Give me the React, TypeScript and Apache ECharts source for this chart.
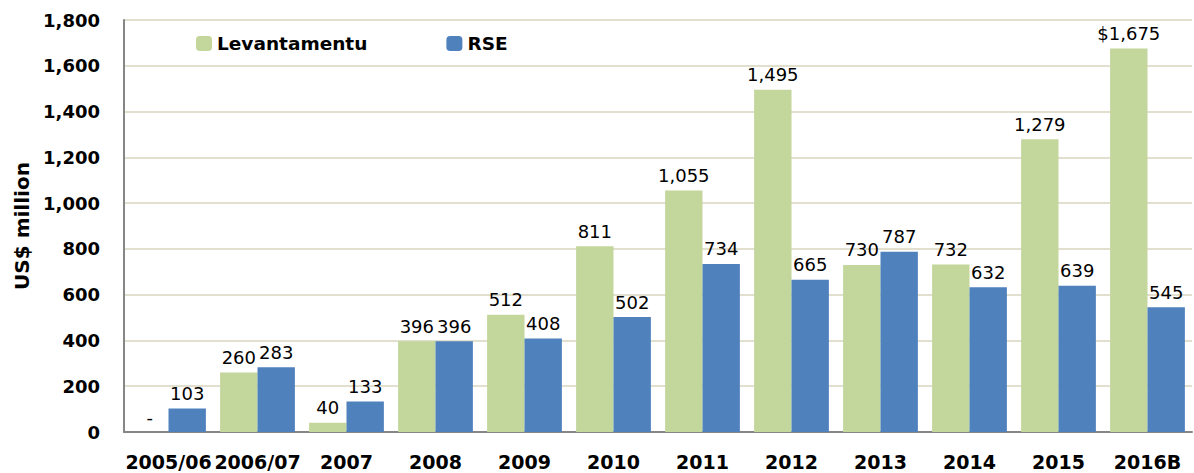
import React, { useEffect, useRef } from "react";
import * as echarts from "echarts";

const categories = ["2005/06", "2006/07", "2007", "2008", "2009", "2010", "2011", "2012", "2013", "2014", "2015", "2016B"];
const levantamentu = [0, 260, 40, 396, 512, 811, 1055, 1495, 730, 732, 1279, 1675];
const rse = [103, 283, 133, 396, 408, 502, 734, 665, 787, 632, 639, 545];
const levantamentuLabels = ["-", "260", "40", "396", "512", "811", "1,055", "1,495", "730", "732", "1,279", "$1,675"];
const rseLabels = ["103", "283", "133", "396", "408", "502", "734", "665", "787", "632", "639", "545"];

const FONT = "'DejaVu Sans', sans-serif";

export default function App() {
  const ref = useRef<HTMLDivElement>(null);
  useEffect(() => {
    const chart = echarts.init(ref.current!, null, { renderer: "svg" });
    chart.setOption({
      animation: false,
      textStyle: { fontFamily: FONT },
      legend: {
        left: 191,
        top: 29,
        itemWidth: 16,
        itemHeight: 15,
        itemGap: 79,
        textStyle: { fontFamily: FONT, fontSize: 18.5, fontWeight: "bold", color: "#000" },
        data: ["Levantamentu", "RSE"],
      },
      grid: { left: 124, right: 2, top: 20, bottom: 41, containLabel: false },
      xAxis: {
        type: "category",
        data: categories,
        axisLine: { lineStyle: { color: "#868686", width: 2 } },
        axisTick: { show: false },
        axisLabel: { fontFamily: FONT, fontSize: 19, fontWeight: "bold", color: "#000", margin: 20, interval: 0 },
      },
      yAxis: {
        type: "value",
        min: 0,
        max: 1800,
        interval: 200,
        name: "US$ million",
        nameLocation: "middle",
        nameGap: 92,
        nameTextStyle: { fontFamily: FONT, fontSize: 20, fontWeight: "bold", color: "#000" },
        axisLine: { show: true, lineStyle: { color: "#868686", width: 2 } },
        axisTick: { show: false },
        axisLabel: {
          fontFamily: FONT,
          fontSize: 18,
          fontWeight: "bold",
          color: "#000",
          margin: 24,
          formatter: (v: number) => v.toLocaleString("en-US"),
        },
        splitLine: { lineStyle: { color: "#e3dfcf", width: 2 } },
      },
      series: [
        {
          name: "Levantamentu",
          type: "bar",
          data: levantamentu,
          barGap: "0%",
          barCategoryGap: "16%",
          itemStyle: { color: "#c3d69b" },
          label: {
            show: true,
            position: "top",
            distance: 6,
            fontFamily: FONT,
            fontSize: 18,
            color: "#000",
            formatter: (p: any) => levantamentuLabels[p.dataIndex],
          },
        },
        {
          name: "RSE",
          type: "bar",
          data: rse,
          itemStyle: { color: "#4f81bd" },
          label: {
            show: true,
            position: "top",
            distance: 6,
            fontFamily: FONT,
            fontSize: 18,
            color: "#000",
            formatter: (p: any) => rseLabels[p.dataIndex],
          },
        },
      ],
      graphic: [
        {
          type: "line",
          shape: { x1: 124, y1: 20, x2: 1192, y2: 20 },
          style: { stroke: "#dde3ea", lineWidth: 2 },
          z: 0,
        },
      ],
    });
    return () => chart.dispose();
  }, []);
  return <div ref={ref} style={{ width: 1194, height: 473, position: "absolute", left: 0, top: 0 }} />;
}
